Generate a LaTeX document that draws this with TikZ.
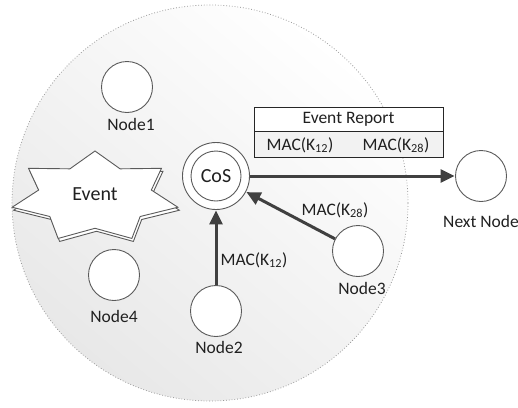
\documentclass[tikz,border=0pt]{standalone}
\usepackage{fontspec}
\setmainfont{Carlito}
\usetikzlibrary{arrows.meta}
\definecolor{arrgray}{HTML}{404040}
\definecolor{txtgray}{HTML}{202020}
\definecolor{ringgray}{HTML}{5A5A5A}
\begin{document}
\begin{tikzpicture}[x=1pt,y=-1pt,
  every node/.style={font=\fontsize{17.5pt}{20pt}\selectfont, text=txtgray},
  sensor/.style={circle, draw=ringgray, line width=0.9pt, fill=white, minimum size=51pt, inner sep=0pt},
  lbl/.style={inner sep=1pt},
  arr/.style={draw=arrgray, line width=3pt, -{Triangle[length=14pt,width=13pt]}, shorten >=0.5pt},
  starline/.style={draw=ringgray, line width=0.9pt, fill=white, line join=miter}
]
\useasboundingbox (0,0) rectangle (518,407);
% region
\shade[top color=white, bottom color=black!9, shading angle=-40] (210,203) circle (198pt);
\draw[black!40, dotted, line width=0.8pt] (210,203) circle (198pt);
% event star (shadow then main)
\draw[starline] plot[samples at={0,...,13}, variable=\k]
  ({96.5+85*(1-0.32*mod(\k,2))*cos(90+\k*360/14)},
   {200-46*(1-0.32*mod(\k,2))*sin(90+\k*360/14)}) -- cycle;
\draw[starline] plot[samples at={0,...,13}, variable=\k]
  ({95+85*(1-0.32*mod(\k,2))*cos(90+\k*360/14)},
   {197-46*(1-0.32*mod(\k,2))*sin(90+\k*360/14)}) -- cycle;
\node[font=\fontsize{20pt}{22pt}\selectfont] (event) at (95,194) {Event};
% sensors
\node[sensor] (n1) at (127,87) {};
\node[lbl] (n1l) at (131,124) {Node1};
\node[sensor] (n4) at (114,275) {};
\node[lbl] (n4l) at (114,316) {Node4};
\node[sensor] (n2) at (216,311) {};
\node[lbl] (n2l) at (219,347) {Node2};
\node[sensor] (n3) at (358,251) {};
\node[lbl] (n3l) at (362,288) {Node3};
\node[sensor] (next) at (481,176) {};
\node[lbl] (nextl) at (481,221) {Next Node};
% cluster head
\node[circle, draw=ringgray, line width=0.9pt, fill=white, minimum size=67pt, inner sep=0pt] (cos) at (216,176) {};
\node[circle, draw=ringgray, line width=0.9pt, minimum size=50pt, inner sep=0pt, font=\fontsize{20pt}{22pt}\selectfont] (cosin) at (cos.center) {CoS};
% event report table
\node[draw=black!85, line width=0.9pt, fill=white, minimum width=189pt, minimum height=24pt, inner sep=0pt] (erh) at (348.5,119) {Event Report};
\node[draw=black!85, line width=0.9pt, fill=black!5, minimum width=189pt, minimum height=26pt, inner sep=0pt, anchor=north] (erb) at (erh.south) {};
\node[lbl] (mac1) at (300,145) {MAC(K\textsubscript{12})};
\node[lbl] (mac2) at (396,145) {MAC(K\textsubscript{28})};
% connectors
\draw[arr] (cos) -- (next);
\draw[arr] (n2) -- (cos);
\draw[arr] (n3) -- (cos);
\node[lbl] (l12) at (254,260) {MAC(K\textsubscript{12})};
\node[lbl] (l28) at (335,210) {MAC(K\textsubscript{28})};
\end{tikzpicture}
\end{document}
